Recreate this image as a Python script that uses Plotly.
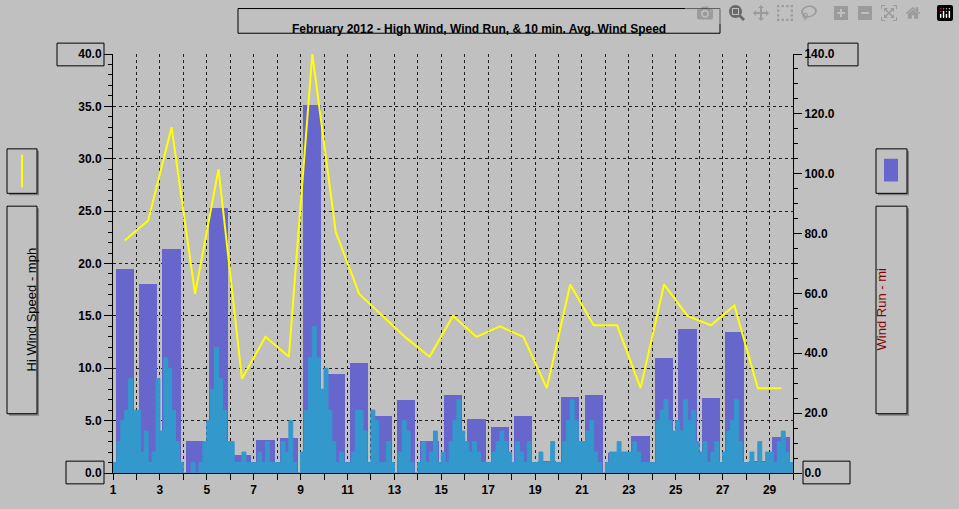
import plotly.graph_objects as go

days = list(range(1, 30))
hi_wind = [22.2, 24.1, 33.0, 17.1, 29.0, 9.0, 13.0, 11.1, 40.0, 23.0, 17.1, 15.0, 12.9, 11.1,
           15.0, 13.0, 14.0, 13.0, 8.1, 18.0, 14.1, 14.1, 8.1, 18.0, 15.0, 14.1, 16.0, 8.1, 8.1]
wind_run = [68.3, 63.0, 75.0, 10.6, 88.4, 6.0, 11.0, 11.6, 123.0, 33.0, 36.6, 19.0, 24.4, 10.6,
            26.0, 18.0, 15.5, 19.0, 4.0, 25.5, 26.0, 6.6, 12.5, 38.3, 48.0, 25.0, 47.0, 4.0, 12.0]
# 10 min avg wind speed, six readings per day (4-hour steps)
avg_speed = [
    [1, 3, 5, 6, 9, 6], [6, 2, 4, 1, 2, 9], [4, 11, 10, 6, 3, 1], [0, 0, 1, 0, 1, 3],
    [5, 8, 12, 9, 6, 3], [3, 1, 1, 2, 1, 1], [1, 2, 1, 3, 1, 1], [1, 3, 2, 5, 1, 0],
    [2, 6, 11, 14, 11, 8], [10, 6, 3, 1, 2, 1], [1, 2, 6, 6, 4, 1], [6, 5, 1, 1, 3, 1],
    [0, 2, 5, 4, 1, 0], [1, 3, 1, 2, 4, 1], [2, 1, 3, 5, 7, 4], [3, 2, 3, 2, 1, 1],
    [1, 2, 3, 4, 3, 2], [1, 3, 2, 1, 3, 1], [1, 2, 1, 1, 3, 1], [1, 3, 5, 7, 5, 3],
    [3, 4, 5, 2, 1, 0], [1, 2, 2, 3, 2, 2], [2, 3, 2, 1, 1, 1], [1, 5, 6, 7, 5, 4],
    [5, 4, 7, 5, 6, 3], [2, 3, 1, 2, 3, 1], [2, 4, 5, 7, 3, 1], [1, 2, 1, 3, 1, 2],
    [2, 1, 3, 4, 2, 1],
]

BG = "#c0c0c0"
W, H = 959, 509
L, R, T, B = 113, 793, 54, 478

avg_x, avg_y = [], []
for d, vals in zip(days, avg_speed):
    for i, v in enumerate(vals):
        avg_x.append(d + i / len(vals))
        avg_y.append(v)
avg_x.append(30)
avg_y.append(avg_y[-1])

fig = go.Figure()
fig.add_trace(go.Bar(x=[d + 0.5 for d in days], y=wind_run, width=0.78,
                     marker=dict(color="#6666cc", line_width=0), yaxis="y"))
fig.add_trace(go.Scatter(x=avg_x, y=avg_y, mode="lines", line=dict(color="#3399cc", width=1, shape="hv"),
                         fill="tozeroy", fillcolor="#3399cc", yaxis="y2"))
fig.add_trace(go.Scatter(x=[d + 0.5 for d in days], y=hi_wind, mode="lines",
                         line=dict(color="#ffff00", width=2), yaxis="y2"))


def px(x):
    return (x - L) / (R - L)


def py(y):
    return (B - y) / (B - T)


def box(x0, y0, x1, y1, shadow=True):
    out = []
    if shadow:
        out.append(dict(type="rect", xref="paper", yref="paper", x0=px(x0 + 2), x1=px(x1 + 2),
                        y0=py(y0 + 2), y1=py(y1 + 2), fillcolor="#808080", line_width=0, layer="above"))
    out.append(dict(type="rect", xref="paper", yref="paper", x0=px(x0), x1=px(x1), y0=py(y0), y1=py(y1),
                    fillcolor=BG, line=dict(color="black", width=1), layer="above"))
    return out


shapes = []
shapes += box(238, 8, 720, 33, shadow=False)
shapes += box(7, 150, 37, 195)
shapes += box(7, 208, 37, 418)
shapes += box(876, 150, 907, 195)
shapes += box(876, 208, 907, 418)
shapes.append(dict(type="line", xref="paper", yref="paper", x0=px(22), x1=px(22), y0=py(156), y1=py(189),
                   line=dict(color="#ffff00", width=2), layer="above"))
shapes.append(dict(type="rect", xref="paper", yref="paper", x0=px(884), x1=px(898), y0=py(160), y1=py(183),
                   fillcolor="#6666cc", line_width=0, layer="above"))
# boxed end labels
for x0, y0, x1, y1 in [(57, 43, 104, 66), (66, 466, 104, 489), (808, 43, 858, 66), (803, 466, 850, 489)]:
    shapes.append(dict(type="rect", xref="paper", yref="paper", x0=px(x0), x1=px(x1), y0=py(y0), y1=py(y1),
                       fillcolor="rgba(0,0,0,0)", line=dict(color="black", width=1), layer="above"))

tick_font = dict(family="Liberation Sans", size=12, color="black", weight="bold")
annotations = [
    dict(text="February 2012 - High Wind, Wind Run, & 10 min. Avg. Wind Speed", xref="paper", yref="paper",
         x=px(479), y=py(20), showarrow=False, font=tick_font),
    dict(text="Hi Wind Speed - mph", textangle=-90, xref="paper", yref="paper", x=px(22), y=py(313),
         showarrow=False, font=dict(family="Liberation Sans", size=13, color="black")),
    dict(text="Wind Run - mi", textangle=-90, xref="paper", yref="paper", x=px(891), y=py(313),
         showarrow=False, font=dict(family="Liberation Sans", size=13, color="#8b0000")),
]

grid = dict(showgrid=True, gridcolor="#202020", griddash="3px,3px", gridwidth=1)

fig.update_layout(
    width=W, height=H, showlegend=False, bargap=0,
    paper_bgcolor=BG, plot_bgcolor=BG,
    margin=dict(l=L, r=W - R, t=T, b=H - B),
    shapes=shapes, annotations=annotations,
    xaxis=dict(range=[1, 30], tickvals=list(range(1, 31)),
               ticktext=[str(d) if d % 2 == 1 and d < 30 else "" for d in range(1, 31)],
               ticks="outside", ticklen=6, tickcolor="black", showline=True, linecolor="black",
               zeroline=False, tickfont=tick_font, **grid),
    yaxis=dict(range=[0, 140], side="right", dtick=20, tickformat=".1f", ticks="outside", ticklen=8,
               tickcolor="black", showline=True, linecolor="black", showgrid=False, zeroline=False,
               minor=dict(dtick=5, ticks="outside", ticklen=4, tickcolor="black"),
               tickfont=tick_font),
    yaxis2=dict(range=[0, 40], overlaying="y", side="left", dtick=5, tickformat=".1f", ticks="outside",
                ticklen=8, tickcolor="black", showline=True, linecolor="black", zeroline=False,
                minor=dict(dtick=1, ticks="outside", ticklen=4, tickcolor="black"),
                tickfont=tick_font, **grid),
)

fig.write_html("out.html", post_script="document.body.style.margin='0';")
